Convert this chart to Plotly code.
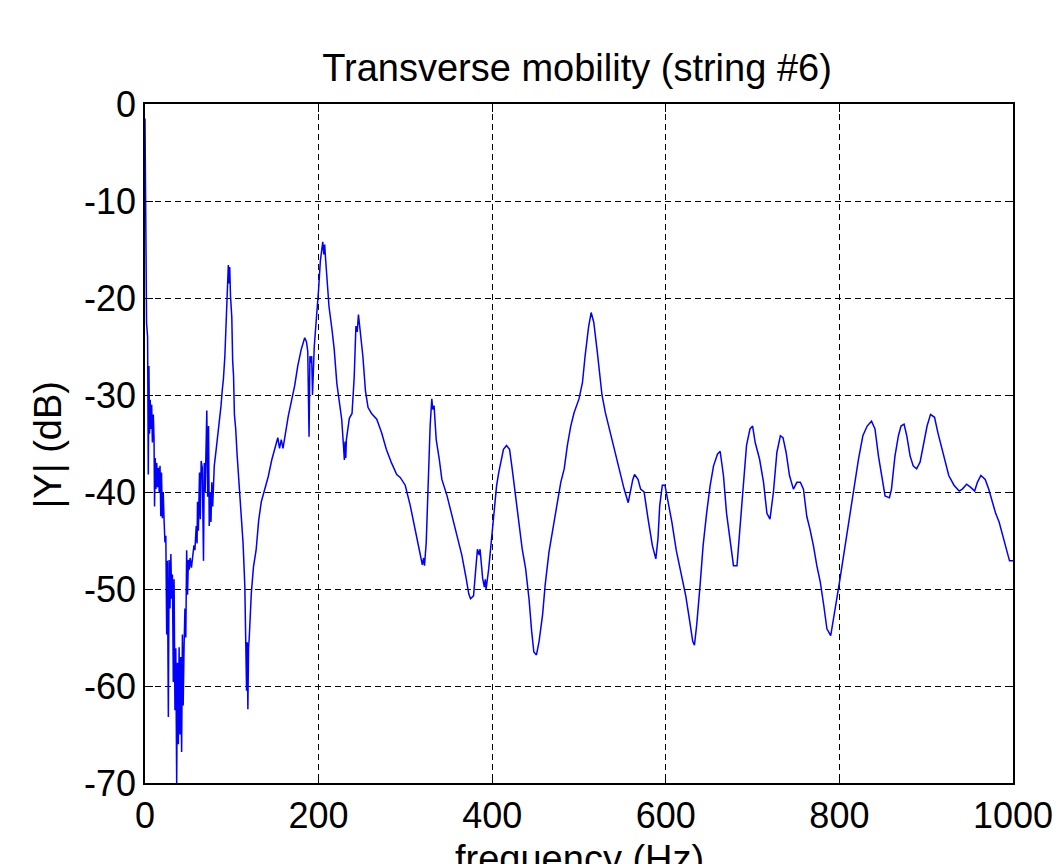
import plotly.graph_objects as go

# Frequency (Hz) and |Y| (dB)
freq = [
    0, 0.6, 1.2, 1.8, 3.0, 3.8, 4.5, 5.2, 6.0, 7.0, 7.7, 8.5, 9.6, 10.4, 11.0, 11.8,
    12.6, 13.5, 14.5, 15.4, 16.4, 17.3, 18.2, 19.0, 20.0, 21.0, 22.0, 23.0, 24.0,
    25.0, 25.8, 26.9, 27.8, 28.8, 29.8, 30.7, 31.6, 32.6, 33.5, 34.5, 35.5, 36.5,
    37.4, 38.4, 39.3, 40.3, 41.2, 42.2, 43.1, 44.0, 45.0, 46.0, 47.0, 48.0, 49.0,
    50.0, 51.0, 52.0, 53.5, 55.0, 56.4, 57.5, 59.0, 60.0, 60.5, 61.5, 62.8, 63.7,
    64.7, 66.0, 67.4, 68.3, 69.3, 70.2, 71.2, 72.2, 73.2, 74.0, 75.0, 76.0, 77.0,
    78.0, 79.8, 82.0, 84.0, 86.0, 87.6, 89.0, 90.3, 92.0, 94.0, 95.0, 96.0, 96.8,
    97.6, 98.5, 100.0, 101.0, 102.0, 103.0, 104.5, 106, 108, 110, 111, 113, 115,
    116, 117, 117.8, 118.5, 119.3, 120, 122.5, 125, 128, 131, 134, 138, 142, 146,
    150, 153, 155, 157, 159, 161, 165, 169, 172.5, 176, 180, 184, 186, 187.5, 189,
    190, 191, 192, 193, 195, 197, 200, 202, 204.8, 206, 207, 208, 210, 212, 215.5,
    218, 221, 224, 226.6, 228.5, 229.7, 230.5, 231.3, 232, 235.4, 238.5, 241, 243,
    244.5, 245.9, 248, 251, 254, 257, 261, 267, 272.6, 278, 284, 290, 294, 299.8,
    305.6, 311, 316, 319.5, 321, 322, 324, 326, 328.5, 330.4, 331.5, 333, 335.5,
    339, 342, 348, 353.5, 359, 365, 370, 373, 375, 378.5, 381, 383, 385, 386, 389,
    391, 392, 393, 396, 399, 402, 405, 407.5, 410.6, 413, 416.5, 420, 423, 427,
    431, 434.6, 438.5, 442.4, 445.5, 448, 451, 454, 458, 461, 465.4, 470, 475, 479,
    483, 486.6, 490.5, 494.4, 500, 504, 507, 511, 514, 517, 521, 524, 526.5, 530.3,
    536, 542, 547.8, 552, 556.7, 559, 562, 564, 568, 571, 575, 579.6, 584.5, 588.5,
    591, 593, 596, 599, 603, 607, 612, 618, 623, 627, 631, 633, 635.6, 639.5, 643,
    647, 651, 655, 659.5, 662.6, 666.4, 670, 674, 678, 682, 685.6, 689.4, 693, 697,
    700, 703, 708, 712.6, 716.5, 720, 724, 728, 732, 735, 738.6, 742.5, 747, 751,
    755, 758.6, 762.4, 766, 770, 774, 778, 782, 785.6, 790, 793, 797, 800.8, 805.4,
    810.4, 816, 822, 827, 832, 837, 841, 845, 849, 852.6, 857.6, 860, 864, 868, 871,
    874.5, 877.6, 881.5, 885, 889, 893, 897, 901, 905, 909.6, 913.5, 917, 921, 926,
    932, 938, 941.6, 946.6, 951, 955.8, 959, 963, 968, 972, 976.5, 980, 984, 988,
    992, 996, 1000,
]

mag_db = [
    -1.5, -8, -12, -22.6, -24, -38.2, -27, -34, -30.5, -33.5, -31, -34.9, -32, -34.5,
    -41.5, -36.5, -39.7, -37, -39.5, -37.5, -40, -37.3, -42.5, -38, -42.7, -40, -43,
    -45.2, -44.5, -54.7, -47.1, -63.2, -47, -52, -46.4, -51, -48.5, -59.6, -49, -62.5,
    -56.1, -70, -57.6, -66, -56, -65, -57, -66.8, -54.7, -62, -56, -52, -55, -46,
    -50.6, -47, -48, -46.8, -47.8, -46.5, -45.5, -46, -43.5, -45.3, -41, -44, -38,
    -42.8, -36.8, -37.5, -47.1, -37, -40, -36, -31.6, -40.5, -33.2, -43.5, -40, -43.1,
    -39, -41.5, -37.3, -35.6, -34.2, -32.5, -31.1, -29.5, -28.4, -26, -22, -20, -16.6,
    -18.5, -16.8, -19.8, -22, -26.5, -28, -32, -33.5, -36, -39, -41, -42.3, -45.3,
    -49.7, -56.4, -60.5, -55.5, -62.4, -56, -55.2, -50.4, -47.7, -46, -42.9, -41,
    -39.8, -38.4, -36.7, -35.3, -34.4, -35.5, -34.6, -35.5, -34.3, -32.2, -30.5, -29,
    -27, -25.3, -24.1, -24.5, -25.5, -34.3, -26, -26.7, -26, -30, -25, -22.9, -19.1,
    -16.2, -14.2, -15.5, -14.5, -15.9, -18.6, -20.9, -23.3, -25.3, -28.8, -30.8,
    -32.5, -35, -36.7, -34.8, -36.5, -34.6, -32.4, -31.9, -28.2, -22.9, -23.5, -21.7,
    -23.3, -26, -29.6, -31.3, -31.9, -32.5, -33.9, -35.6, -37, -38.2, -38.5, -39.3,
    -41.4, -43.8, -45.9, -47.5, -46.8, -47.6, -45.2, -39.7, -33.2, -30.4, -31.5,
    -31.1, -34.6, -36.6, -38.7, -40.4, -42.4, -44.1, -46.5, -48.9, -50.5, -51, -50.7,
    -48, -45.9, -46.5, -45.9, -48.9, -49.8, -49, -50, -47.9, -45.2, -42.8, -39.4, -38,
    -36.6, -35.6, -35.2, -35.6, -37.6, -40.4, -43.1, -45.9, -47.9, -51, -54.4, -56.5,
    -56.8, -55.4, -52.7, -49.6, -46.2, -43.8, -41.4, -39, -37.6, -35.2, -33.2, -31.8,
    -30.4, -28.7, -26, -23, -21.5, -22.5, -25.5, -28, -30, -31.8, -33.9, -36.3, -38.3,
    -39.7, -41.1, -40, -38.7, -38.2, -38.7, -39.7, -40, -42.8, -45.5, -46.9, -44.8,
    -41.4, -39.3, -39.3, -41.1, -43.1, -46, -48.6, -50.7, -53, -55.4, -55.8, -53.7,
    -49.6, -45.5, -42.2, -39.4, -37.3, -36.1, -35.8, -38.3, -42.2, -45.2, -47.6,
    -47.6, -43.8, -39.4, -35.2, -33.5, -33.2, -34.9, -36.6, -39, -42.2, -42.8, -40,
    -35.9, -34.2, -34.4, -35.9, -38.3, -39.7, -39, -39, -39.7, -42.5, -43.8, -45.5,
    -47.6, -49.3, -51.7, -54.1, -54.8, -53, -51, -48.9, -46.2, -43.4, -39.7, -36.6,
    -34.2, -33.2, -32.7, -33.5, -36.3, -38.3, -40.4, -40.6, -39.7, -36.3, -34.2,
    -33.2, -33, -34.2, -36.3, -37.3, -37.6, -36.9, -35.2, -33.2, -32, -32.3, -33.9,
    -35.2, -36.6, -38.3, -39.3, -39.9, -39.7, -39.2, -39.5, -39.9, -39, -38.3, -38.7,
    -39.7, -41.1, -42.2, -43.1, -44.5, -45.9, -47.1, -47.1,
]

x_ticks = [0, 200, 400, 600, 800, 1000]
y_ticks = [-70, -60, -50, -40, -30, -20, -10, 0]

FONT = "Arial, Liberation Sans, sans-serif"

fig = go.Figure()
fig.add_trace(go.Scatter(
    x=freq, y=mag_db, mode="lines",
    line=dict(color="#0000ff", width=1.5),
    showlegend=False, hoverinfo="skip",
))

axis_common = dict(
    showline=True, linecolor="black", linewidth=1.5, mirror="allticks",
    ticks="inside", ticklen=8, tickwidth=1, tickcolor="black",
    showgrid=True, gridcolor="black", gridwidth=1, griddash="6px,4px",
    zeroline=False,
    tickfont=dict(family=FONT, size=36, color="black"),
)

fig.update_xaxes(range=[0, 1000], tickmode="array", tickvals=x_ticks,
                 ticktext=[str(v) for v in x_ticks], automargin=False,
                 **axis_common)
fig.update_yaxes(range=[-70, 0], tickmode="array", tickvals=y_ticks,
                 ticktext=[str(v) for v in y_ticks], automargin=False,
                 **axis_common)

fig.update_layout(
    width=1058, height=864,
    margin=dict(l=145, r=45, t=104, b=81),
    paper_bgcolor="white", plot_bgcolor="white",
    title=dict(text="Transverse mobility (string #6)",
               font=dict(family=FONT, size=38, color="black"),
               x=577 / 1058, xanchor="center", xref="container",
               y=1 - 68 / 864, yanchor="middle", yref="container"),
    annotations=[
        dict(text="frequency (Hz)", xref="paper", yref="paper", x=0.5, y=0,
             xanchor="center", yanchor="top", yshift=-53, showarrow=False,
             font=dict(family=FONT, size=38, color="black")),
        dict(text="|Y| (dB)", xref="paper", yref="paper", x=0, y=0.5,
             xanchor="center", yanchor="middle", xshift=-98, yshift=-2,
             textangle=-90, showarrow=False,
             font=dict(family=FONT, size=38, color="black")),
    ],
)

fig.write_html("out.html")
